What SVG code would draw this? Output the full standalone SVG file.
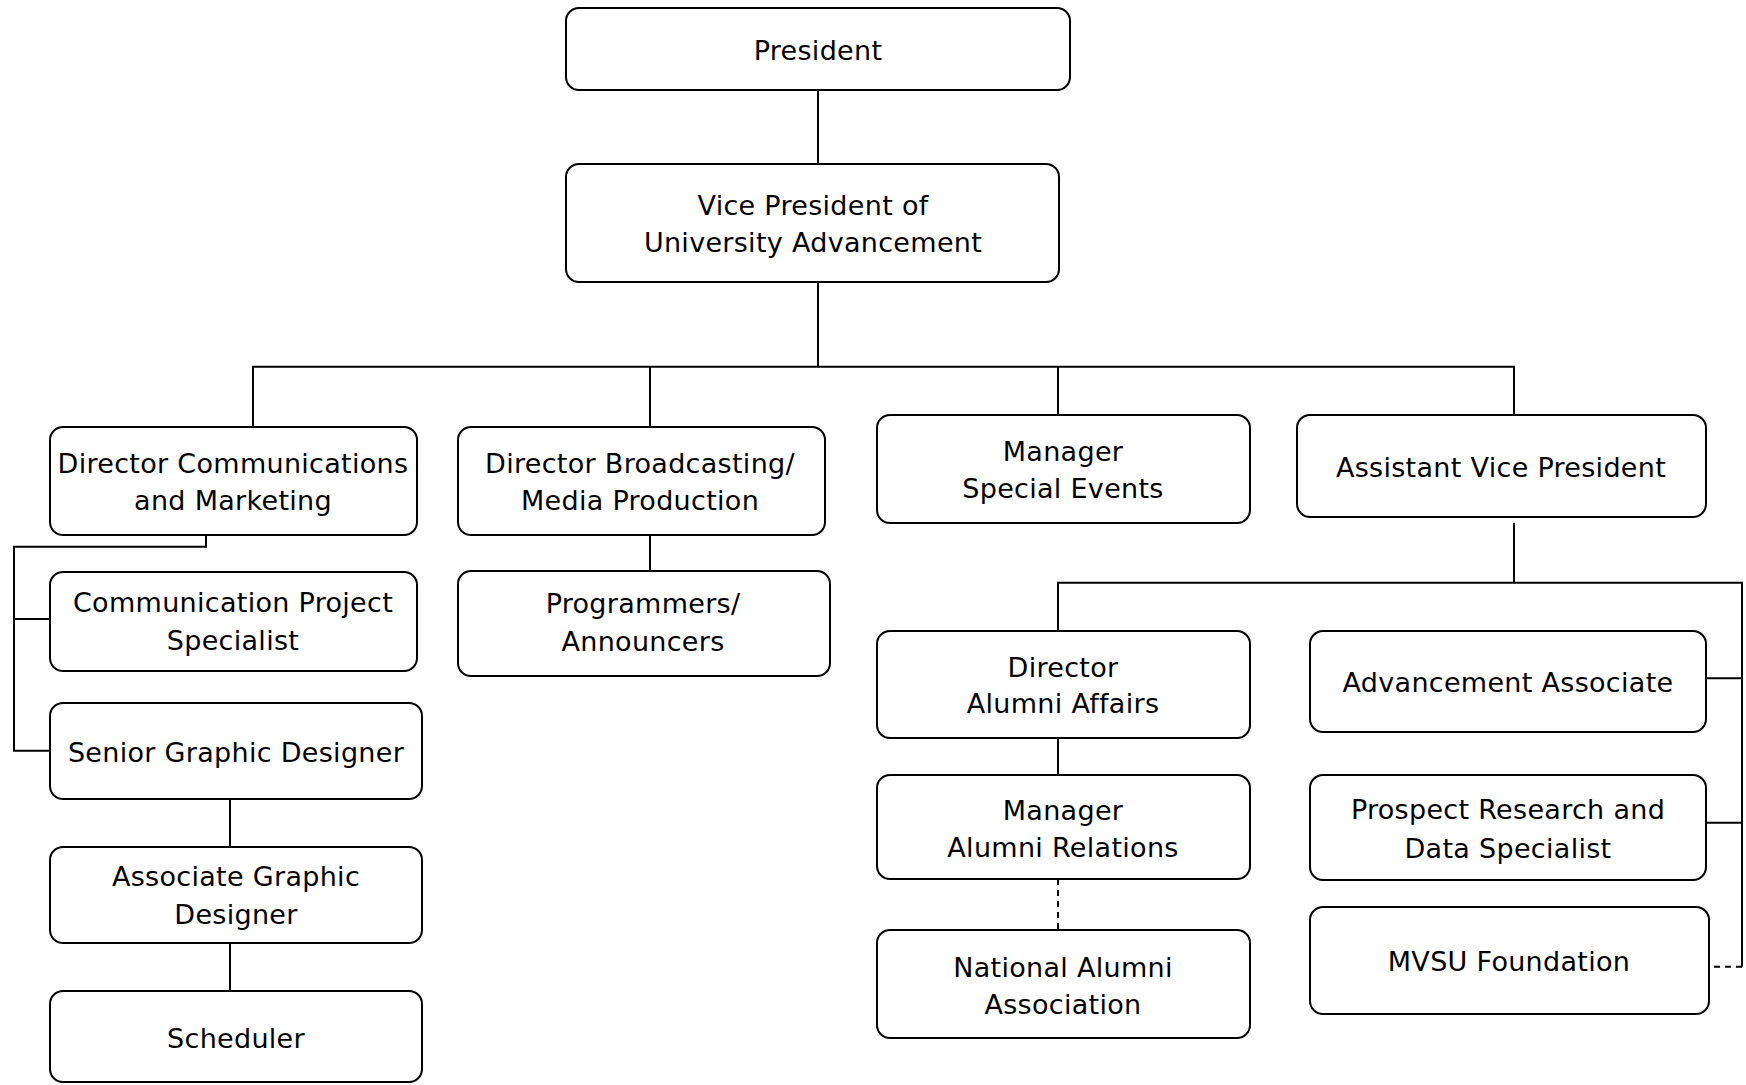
<svg xmlns="http://www.w3.org/2000/svg" width="1746" height="1085" viewBox="0 0 1746 1085">
<style>
.box{fill:#fff;stroke:#000;stroke-width:2}
.t{font-family:"DejaVu Sans","Verdana",sans-serif;font-size:27px;letter-spacing:0.3px;fill:#000;text-anchor:middle}
.c{fill:none;stroke:#000;stroke-width:2}
.d{fill:none;stroke:#000;stroke-width:2;stroke-dasharray:6 5}
</style>
<rect width="1746" height="1085" fill="#fff"/>
<g id="connectors">
<path class="c" d="M818 90V164"/>
<path class="c" d="M818 282V366.7"/>
<path class="c" d="M253 427V366.7H1514V415"/>
<path class="c" d="M650 366.7V427"/>
<path class="c" d="M1058 366.7V415"/>
<path class="c" d="M206 535V546.7H14V750.7H50"/>
<path class="c" d="M14 619H50"/>
<path class="c" d="M650 535V571"/>
<path class="c" d="M230 799V847"/>
<path class="c" d="M230 943V991"/>
<path class="c" d="M1514 522.7V582.7"/>
<path class="c" d="M1058 631V582.7H1742V966.7"/>
<path class="c" d="M1706 678.3H1742"/>
<path class="c" d="M1706 822.7H1742"/>
<path class="d" d="M1742 966.7H1709"/>
<path class="c" d="M1058 738V775"/>
<path class="d" d="M1058 879V930"/>
</g>
<g id="president"><rect class="box" x="566" y="8" width="504" height="82" rx="13"/><text class="t" x="818" y="60">President</text></g>
<g id="vp"><rect class="box" x="566" y="164" width="493" height="118" rx="13"/><text class="t" x="813" y="215">Vice President of</text><text class="t" x="813" y="252">University Advancement</text></g>
<g id="dir-comm"><rect class="box" x="50" y="427" width="367" height="108" rx="13"/><text class="t" x="233" y="473">Director Communications</text><text class="t" x="233" y="510">and Marketing</text></g>
<g id="dir-broad"><rect class="box" x="458" y="427" width="367" height="108" rx="13"/><text class="t" x="640" y="473">Director Broadcasting/</text><text class="t" x="640" y="510">Media Production</text></g>
<g id="mgr-events"><rect class="box" x="877" y="415" width="373" height="108" rx="13"/><text class="t" x="1063" y="461">Manager</text><text class="t" x="1063" y="498">Special Events</text></g>
<g id="avp"><rect class="box" x="1297" y="415" width="409" height="102" rx="13"/><text class="t" x="1501" y="477">Assistant Vice President</text></g>
<g id="comm-spec"><rect class="box" x="50" y="572" width="367" height="99" rx="13"/><text class="t" x="233" y="612">Communication Project</text><text class="t" x="233" y="650">Specialist</text></g>
<g id="programmers"><rect class="box" x="458" y="571" width="372" height="105" rx="13"/><text class="t" x="643" y="613">Programmers/</text><text class="t" x="643" y="651">Announcers</text></g>
<g id="senior-gd"><rect class="box" x="50" y="703" width="372" height="96" rx="13"/><text class="t" x="236" y="762">Senior Graphic Designer</text></g>
<g id="assoc-gd"><rect class="box" x="50" y="847" width="372" height="96" rx="13"/><text class="t" x="236" y="886">Associate Graphic</text><text class="t" x="236" y="924">Designer</text></g>
<g id="scheduler"><rect class="box" x="50" y="991" width="372" height="91" rx="13"/><text class="t" x="236" y="1048">Scheduler</text></g>
<g id="dir-alumni"><rect class="box" x="877" y="631" width="373" height="107" rx="13"/><text class="t" x="1063" y="677">Director</text><text class="t" x="1063" y="713">Alumni Affairs</text></g>
<g id="mgr-alumni"><rect class="box" x="877" y="775" width="373" height="104" rx="13"/><text class="t" x="1063" y="820">Manager</text><text class="t" x="1063" y="857">Alumni Relations</text></g>
<g id="naa"><rect class="box" x="877" y="930" width="373" height="108" rx="13"/><text class="t" x="1063" y="977">National Alumni</text><text class="t" x="1063" y="1014">Association</text></g>
<g id="adv-assoc"><rect class="box" x="1310" y="631" width="396" height="101" rx="13"/><text class="t" x="1508" y="692">Advancement Associate</text></g>
<g id="prospect"><rect class="box" x="1310" y="775" width="396" height="105" rx="13"/><text class="t" x="1508" y="819">Prospect Research and</text><text class="t" x="1508" y="858">Data Specialist</text></g>
<g id="mvsu"><rect class="box" x="1310" y="907" width="399" height="107" rx="13"/><text class="t" x="1509" y="971">MVSU Foundation</text></g>
</svg>
